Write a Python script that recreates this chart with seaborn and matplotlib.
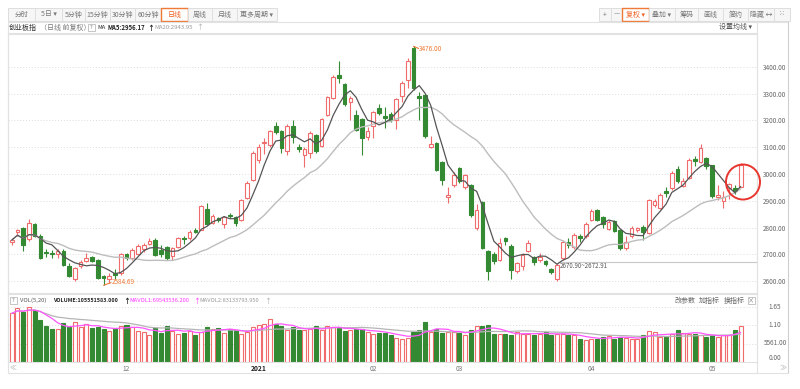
import numpy as np
import pandas as pd
import matplotlib
matplotlib.use('Agg')
import matplotlib.pyplot as plt
import seaborn as sns
from matplotlib.patches import Rectangle, Ellipse
from matplotlib.lines import Line2D

sns.set_theme(style='white')
plt.rcParams['font.family'] = ['Noto Sans CJK SC', 'DejaVu Sans']

# ---------------- data ----------------
opens = [2748, 2782, 2800, 2756, 2812, 2768, 2708, 2705, 2700, 2714,
         2655, 2607, 2655, 2674, 2689, 2680, 2618, 2608, 2632, 2632,
         2700, 2686, 2702, 2720, 2740, 2754, 2718, 2726, 2694, 2729,
         2760, 2760, 2792, 2792, 2868, 2818, 2836, 2812, 2846, 2840,
         2830, 2912, 2978, 3052, 3114, 3108, 3180, 3160, 3087, 3180,
         3102, 3072, 3080, 3145, 3104, 3220, 3282, 3368, 3336, 3270,
         3220, 3204, 3137, 3180, 3247, 3215, 3224, 3202, 3289, 3351,
         3468, 3290, 3296, 3100, 3115, 3046, 2913, 2959, 3021, 2953,
         2959, 2798, 2897, 2711, 2701, 2680, 2761, 2732, 2637, 2655,
         2714, 2689, 2680, 2676, 2645, 2610, 2686, 2745, 2728, 2768,
         2768, 2830, 2866, 2838, 2795, 2825, 2790, 2722, 2768, 2791,
         2803, 2780, 2884, 2872, 2935, 2947, 3020, 2956, 2985, 3055,
         3046, 3058, 3032, 2915, 2898, 2948, 2946, 2953]
highs = [2762, 2795, 2803, 2831, 2818, 2775, 2720, 2715, 2720, 2720,
         2668, 2652, 2680, 2705, 2693, 2683, 2625, 2630, 2645, 2705,
         2705, 2722, 2740, 2742, 2760, 2760, 2735, 2730, 2728, 2765,
         2770, 2790, 2800, 2885, 2890, 2850, 2840, 2845, 2855, 2845,
         2908, 2972, 3085, 3110, 3135, 3165, 3195, 3165, 3185, 3200,
         3110, 3100, 3160, 3150, 3208, 3290, 3370, 3420, 3340, 3290,
         3240, 3210, 3175, 3235, 3262, 3250, 3230, 3285, 3345, 3432,
         3476, 3307, 3300, 3140, 3118, 3050, 2953, 3008, 3025, 3000,
         2962, 2887, 2900, 2715, 2708, 2761, 2765, 2740, 2672, 2705,
         2755, 2695, 2705, 2680, 2650, 2668, 2752, 2760, 2778, 2775,
         2820, 2868, 2870, 2842, 2830, 2830, 2795, 2768, 2805, 2802,
         2808, 2905, 2905, 2928, 2950, 3010, 3028, 2985, 3058, 3068,
         3112, 3065, 3035, 2958, 2935, 2968, 2960, 3042]
lows = [2735, 2770, 2712, 2750, 2765, 2684, 2690, 2688, 2685, 2655,
        2615, 2600, 2650, 2670, 2670, 2608, 2584.69, 2595, 2610, 2625,
        2680, 2680, 2698, 2710, 2735, 2695, 2692, 2680, 2680, 2725,
        2740, 2755, 2778, 2790, 2810, 2812, 2822, 2800, 2835, 2805,
        2826, 2908, 2975, 3040, 3075, 3100, 3150, 3080, 3070, 3115,
        3082, 3025, 3060, 3080, 3100, 3215, 3280, 3338, 3255, 3200,
        3160, 3070, 3125, 3135, 3220, 3170, 3195, 3168, 3270, 3320,
        3315, 3200, 3135, 3095, 3010, 2960, 2892, 2950, 2965, 2945,
        2840, 2790, 2720, 2606, 2665, 2675, 2735, 2610, 2630, 2640,
        2708, 2660, 2670, 2655, 2628, 2602, 2680, 2725, 2720, 2745,
        2760, 2825, 2825, 2800, 2790, 2782, 2718, 2715, 2760, 2785,
        2752, 2775, 2878, 2868, 2915, 2940, 2968, 2950, 2980, 3030,
        3040, 3020, 2912, 2903, 2872, 2905, 2925, 2950]
closes = [2753, 2790, 2735, 2816, 2770, 2686, 2704, 2702, 2712, 2661,
          2620, 2648, 2672, 2686, 2675, 2612, 2612, 2618, 2622, 2700,
          2685, 2717, 2731, 2735, 2750, 2698, 2700, 2686, 2723, 2760,
          2758, 2785, 2782, 2882, 2815, 2843, 2827, 2838, 2842, 2817,
          2903, 2968, 3079, 3099, 3120, 3161, 3155, 3097, 3180, 3137,
          3093, 3092, 3152, 3087, 3204, 3286, 3363, 3358, 3262, 3282,
          3164, 3134, 3161, 3230, 3226, 3208, 3200, 3280, 3341, 3420,
          3322, 3285, 3140, 3112, 3015, 2978, 2922, 2996, 2972, 2996,
          2847, 2866, 2723, 2637, 2674, 2742, 2749, 2640, 2668, 2699,
          2742, 2671, 2689, 2664, 2633, 2660, 2745, 2735, 2772, 2760,
          2814, 2860, 2830, 2815, 2822, 2787, 2723, 2745, 2800, 2797,
          2785, 2903, 2900, 2922, 2928, 3002, 2972, 2972, 3052, 3048,
          3096, 3028, 2916, 2922, 2915, 2963, 2935, 3032]
volumes = [1.45, 1.60, 1.50, 1.65, 1.55, 1.25, 1.08, 0.98, 1.00, 1.15,
           1.05, 1.18, 1.05, 1.12, 1.02, 1.05, 0.98, 0.92, 1.02, 1.08,
           1.10, 1.05, 0.92, 0.90, 0.82, 1.02, 0.87, 1.08, 0.92, 0.85,
           0.88, 0.94, 0.82, 0.90, 1.05, 0.98, 1.02, 0.88, 0.98, 0.95,
           0.85, 0.90, 1.05, 1.10, 1.12, 1.27, 1.12, 1.08, 0.95, 1.05,
           0.95, 0.95, 1.00, 1.08, 0.95, 1.08, 1.05, 1.03, 0.92, 0.95,
           0.98, 0.98, 0.90, 0.85, 0.88, 0.88, 0.82, 0.72, 0.70, 0.72,
           0.90, 0.95, 1.19, 0.90, 1.00, 0.88, 0.90, 0.90, 0.88, 0.82,
           0.97, 1.07, 1.08, 1.10, 0.85, 0.83, 0.83, 0.80, 0.90, 0.85,
           0.85, 0.82, 0.83, 0.90, 0.82, 0.83, 0.83, 0.80, 0.82, 0.70,
           0.65, 0.70, 0.70, 0.75, 0.78, 0.70, 0.75, 0.72, 0.70, 0.70,
           0.80, 0.92, 0.90, 0.75, 0.75, 0.85, 0.95, 0.88, 0.85, 0.85,
           0.80, 0.75, 0.80, 0.75, 0.82, 0.82, 0.95, 1.07]
month_labels = ['12', '2021', '02', '03', '04', '05']
month_idx = [20, 43, 63, 78, 101, 122]
price_ticks = [2600, 2700, 2800, 2900, 3000, 3100, 3200, 3300, 3400]
vol_ticks = [0.0, 0.55, 1.10, 1.65]
vol_tick_labels = ['0.00', '5561.00', '1.10', '1.65']
toolbar_left = ['分时', '5日 ▾', '5分钟', '15分钟', '30分钟', '60分钟', '日线', '周线', '月线', '更多周期 ▾']
toolbar_right = ['+', '—', '复权 ▾', '叠加 ▾', '筹码', '画线', '简约', '隐藏 ↔', '⁙']

# ---------------- layout helpers ----------------
W, H = 800, 389
fig = plt.figure(figsize=(W / 100, H / 100), dpi=100)
fig.patch.set_facecolor('white')


def rect(x0, y0, x1, y1):
    return [x0 / W, 1 - y1 / H, (x1 - x0) / W, (y1 - y0) / H]


def ftext(x, y, s, **kw):
    kw.setdefault('va', 'center')
    kw.setdefault('ha', 'left')
    fig.text(x / W, 1 - y / H, s, **kw)


def fline(x0, y0, x1, y1, color='#e2e2e2', lw=0.8, **kw):
    fig.add_artist(Line2D([x0 / W, x1 / W], [1 - y0 / H, 1 - y1 / H],
                          transform=fig.transFigure, color=color, lw=lw, **kw))


def fbox(x0, y0, x1, y1, ec='#dddddd', fc='#f7f7f7', lw=0.8):
    fig.add_artist(Rectangle((x0 / W, 1 - y1 / H), (x1 - x0) / W, (y1 - y0) / H,
                             transform=fig.transFigure, ec=ec, fc=fc, lw=lw))


RED = '#f06c6c'
GREEN = '#338a33'
ORANGE = '#ef7a35'

n = len(closes)
idx = np.arange(n)
XMIN = -0.645
XMAX = XMIN + 749 / 5.74

df = pd.DataFrame({'i': idx, 'open': opens, 'high': highs, 'low': lows,
                   'close': closes, 'vol': volumes})
df['ma5'] = df['close'].rolling(5, min_periods=1).mean()
df['ma20'] = df['close'].rolling(20, min_periods=1).mean()
df['mavol5'] = df['vol'].rolling(5, min_periods=1).mean()
df['mavol20'] = df['vol'].rolling(20, min_periods=1).mean()
up = df['close'] >= df['open']

# ---------------- price axes ----------------
ax = fig.add_axes(rect(8, 34, 757, 293))
ax.set_xlim(XMIN, XMAX)
ax.set_ylim(2556, 3522)
for p in price_ticks:
    ax.axhline(p, color='#dcdcdc', lw=0.7, ls=(0, (1, 2)), zorder=0)

bw = 0.64
for r in df.itertuples():
    c = RED if r.close >= r.open else GREEN
    ax.vlines(r.i, r.low, r.high, color=c, lw=0.8, zorder=2)
    lo, hi = min(r.open, r.close), max(r.open, r.close)
    h = max(hi - lo, 1.2)
    if r.close >= r.open:
        ax.add_patch(Rectangle((r.i - bw / 2, lo), bw, h, fc='white', ec=c, lw=0.8, zorder=3))
    else:
        ax.add_patch(Rectangle((r.i - bw / 2, lo), bw, h, fc=c, ec=c, lw=0.8, zorder=3))

sns.lineplot(data=df, x='i', y='ma20', ax=ax, color='#bdbdbd', lw=1.0, estimator=None, zorder=4)
sns.lineplot(data=df, x='i', y='ma5', ax=ax, color='#555555', lw=0.9, estimator=None, zorder=5)

ax.yaxis.tick_right()
ax.set_yticks(price_ticks)
ax.set_yticklabels([f'{p:.2f}' for p in price_ticks], fontsize=4.6, color='#666666')
ax.tick_params(axis='y', length=0, pad=4.5)
ax.set_xticks([])
ax.set_xlabel('')
ax.set_ylabel('')
for s in ax.spines.values():
    s.set_color('#e2e2e2')
    s.set_linewidth(0.8)

# annotations: high / low
ih = int(np.argmax(highs))
il = int(np.argmin(lows))
ax.plot([ih, ih + 0.9], [highs[ih], highs[ih] - 8], color=ORANGE, lw=0.8, zorder=6)
ax.text(ih + 1.0, highs[ih] - 10, f'{highs[ih]:.2f}', color=ORANGE, fontsize=4.6,
        va='center', ha='left', zorder=6)
ax.plot([il, il + 1.3], [lows[il], lows[il] + 10], color=ORANGE, lw=0.8, zorder=6)
ax.text(il + 1.4, lows[il] + 14, f'{lows[il]:.2f}', color=ORANGE, fontsize=4.6,
        va='center', ha='left', zorder=6)

# crosshair-like reference line
ax.hlines(2673, 95.2, XMAX, color='#c8c8c8', lw=0.8, zorder=1)
ax.text(95.5, 2656, '2670.90~2672.91', color='#555555', fontsize=4.4, va='center', ha='left')

# red circle highlight
fig.add_artist(Ellipse((743 / W, 1 - 182 / H), 34 / W, 35 / H, transform=fig.transFigure,
                       fill=False, ec='#e8352d', lw=1.4, zorder=10))

# ---------------- volume axes ----------------
axv = fig.add_axes(rect(8, 294, 757, 362))
axv.set_xlim(XMIN, XMAX)
axv.set_ylim(0, 2.03)
for v in vol_ticks[1:]:
    axv.axhline(v, color='#dcdcdc', lw=0.7, ls=(0, (1, 2)), zorder=0)
vw = 0.7
axv.bar(df.loc[up, 'i'], df.loc[up, 'vol'], width=vw, color='white', edgecolor=RED, lw=0.8, zorder=2)
axv.bar(df.loc[~up, 'i'], df.loc[~up, 'vol'], width=vw, color=GREEN, edgecolor=GREEN, lw=0.8, zorder=2)
sns.lineplot(data=df, x='i', y='mavol20', ax=axv, color='#b5b5b5', lw=0.9, estimator=None, zorder=3)
sns.lineplot(data=df, x='i', y='mavol5', ax=axv, color='#ff55ff', lw=0.9, estimator=None, zorder=4)
axv.set_yticks([])
axv.set_xlabel('')
axv.set_ylabel('')
axv.set_xticks(month_idx)
axv.set_xticklabels(month_labels, fontsize=4.8, color='#777777')
axv.tick_params(axis='x', length=0, pad=2.5)
for lab in axv.get_xticklabels():
    if lab.get_text() == '2021':
        lab.set_color('#222222')
        lab.set_fontweight('bold')
for s in axv.spines.values():
    s.set_color('#e2e2e2')
    s.set_linewidth(0.8)

vol_y_px = [357.7, 343.3, 325.0, 306.7]
for lab, yy in zip(vol_tick_labels, vol_y_px):
    ftext(775, yy, lab, fontsize=4.6, color='#666666', ha='center')

# ---------------- frame lines ----------------
fline(8, 22, 788, 22)
fline(8, 33, 757, 33)
fline(757, 22, 757, 373)
fline(788, 22, 788, 373, color='#cfcfcf')
fline(8, 373, 788, 373)
fline(8, 22, 8, 373)
ftext(13, 368, '≪', fontsize=5, color='#aaaaaa', ha='center')
ftext(783, 368, '≫', fontsize=5, color='#aaaaaa', ha='center')

# ---------------- toolbar ----------------
edges_l = [8, 35, 62, 85, 110, 135, 161, 188, 212, 237, 277]
for k, lab in enumerate(toolbar_left):
    x0, x1 = edges_l[k], edges_l[k + 1]
    sel = (lab == '日线')
    fbox(x0, 8, x1, 21, ec=ORANGE if sel else '#dedede', fc='white' if sel else '#f6f6f6',
         lw=1.0 if sel else 0.7)
    ftext((x0 + x1) / 2, 14.5, lab, fontsize=5, color='#f06020' if sel else '#777777', ha='center')

edges_r = [599, 611, 622, 649, 675, 698, 723, 748, 774, 790]
for k, lab in enumerate(toolbar_right):
    x0, x1 = edges_r[k], edges_r[k + 1]
    sel = (lab == '复权 ▾')
    fbox(x0, 8, x1, 21, ec=ORANGE if sel else '#dedede', fc='white' if sel else '#f6f6f6',
         lw=1.0 if sel else 0.7)
    ftext((x0 + x1) / 2, 14.5, lab, fontsize=5, color='#f06020' if sel else '#777777', ha='center')

# ---------------- header rows ----------------
ftext(9, 27.5, '创业板指', fontsize=5, color='#333333')
ftext(40, 27.5, '（日线 前复权）', fontsize=5, color='#777777')
fbox(88, 24, 94.5, 31, ec='#bbbbbb', fc='white', lw=0.6)
ftext(91.2, 27.5, '?', fontsize=4, color='#777777', ha='center')
ftext(97, 27.5, 'MA', fontsize=4.2, color='#333333')
ftext(108, 27.5, 'MA5:2956.17', fontsize=4.3, color='#222222', fontweight='bold')
ftext(147, 27.5, '↑', fontsize=5, color='#222222', fontweight='bold')
ftext(154, 27.5, 'MA20:2943.95', fontsize=4.3, color='#999999')
ftext(196, 27.5, '↑', fontsize=5, color='#aaaaaa')
ftext(752, 27.5, '设置均线 ▾', fontsize=5, color='#555555', ha='right')

fbox(10, 297, 17, 304, ec='#bbbbbb', fc='white', lw=0.6)
ftext(13.5, 300.5, '?', fontsize=4, color='#777777', ha='center')
ftext(20, 300.5, 'VOL(5,20)', fontsize=4.2, color='#555555')
ftext(53, 300.5, 'VOLUME:105551583.000', fontsize=3.9, color='#222222', fontweight='bold')
ftext(123, 300.5, '↑', fontsize=5, color='#222222', fontweight='bold')
ftext(129, 300.5, 'MAVOL1:69543536.200', fontsize=4.1, color='#ff33ff')
ftext(193, 300.5, '↑', fontsize=5, color='#ff33ff')
ftext(199, 300.5, 'MAVOL2:83133793.950', fontsize=4.1, color='#999999')
ftext(264, 300.5, '↑', fontsize=5, color='#aaaaaa')
ftext(675, 300.5, '改参数', fontsize=5, color='#666666')
ftext(699, 300.5, '加指标', fontsize=5, color='#666666')
ftext(724, 300.5, '换指标', fontsize=5, color='#666666')
fbox(748, 296.5, 755, 303.5, ec='#bbbbbb', fc='white', lw=0.6)
ftext(751.5, 300.2, '×', fontsize=4.5, color='#777777', ha='center')

fig.savefig('out.png', dpi=100, facecolor='white')
